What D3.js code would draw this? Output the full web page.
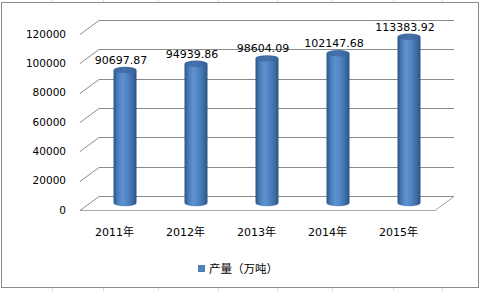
<!DOCTYPE html>
<html>
<head>
<meta charset="utf-8">
<script src="https://cdn.jsdelivr.net/npm/d3@7"></script>
<style>
  body { margin: 0; background: #fff; }
  svg text { font-family: "DejaVu Sans", "Noto Sans CJK SC", sans-serif; fill: #000; }
</style>
</head>
<body>
<div id="app"></div>
<script>
// chart data
var years = ["2011年", "2012年", "2013年", "2014年", "2015年"];
var output = [90697.87, 94939.86, 98604.09, 102147.68, 113383.92];
var yTicks = [0, 20000, 40000, 60000, 80000, 100000, 120000];
var seriesName = "产量（万吨）";

var width = 482,
  height = 291,
  depthX = 19,
  depthY = -14,
  barW = 23;

var svg = d3.select("#app")
  .append("svg")
  .attr("width", width)
  .attr("height", height);

// faint spreadsheet cells behind the chart object
var cellCols = [52, 103, 158, 218, 277, 332, 393, 442];
svg.selectAll(".cell")
  .data(cellCols)
  .enter().append("line")
  .attr("x1", d => d + 0.5).attr("x2", d => d + 0.5)
  .attr("y1", 0).attr("y2", height)
  .attr("stroke", "#d9d9d9");

// chart area
svg.append("rect")
  .attr("x", 1.5).attr("y", 2.5)
  .attr("width", 477).attr("height", 285)
  .attr("fill", "#fff")
  .attr("stroke", "#8c8c8c");

// scales on the front plane
var x = d3.scaleBand()
  .domain(years)
  .range([80, 435]);

var y = d3.scaleLinear()
  .domain([0, 120000])
  .range([210, 34]);

var grid = svg.append("g");

// gridlines: left side wall diagonal + back wall line
yTicks.forEach(function (t) {
  var yf = Math.round(y(t)) + 0.5;
  grid.append("path")
    .attr("d", "M80," + yf + "L" + (80 + depthX) + "," + (yf + depthY) + "L" + (435 + depthX) + "," + (yf + depthY))
    .attr("fill", "none")
    .attr("stroke", "#8a8a8a");
});

// floor front and right edges
var y0 = Math.round(y(0)) + 0.5;
grid.append("path")
  .attr("d", "M80," + y0 + "L435," + y0 + "L" + (435 + depthX) + "," + (y0 + depthY))
  .attr("fill", "none")
  .attr("stroke", "#a6a6a6");

// tick labels
svg.selectAll(".ytick")
  .data(yTicks)
  .enter().append("text")
  .attr("x", 66)
  .attr("y", d => y(d))
  .attr("dy", "0.35em")
  .attr("text-anchor", "end")
  .style("font-size", "10.5px")
  .text(d => d);

// cylinder gradients
var defs = svg.append("defs");
var sideGrad = defs.append("linearGradient").attr("id", "side");
[["0%", "#2c5487"], ["18%", "#4a7cb8"], ["38%", "#5f92d2"], ["62%", "#4f82c0"], ["85%", "#3c6aa3"], ["100%", "#2b5283"]]
  .forEach(s => sideGrad.append("stop").attr("offset", s[0]).attr("stop-color", s[1]));
var capGrad = defs.append("linearGradient").attr("id", "cap");
[["0%", "#3a68a0"], ["50%", "#4572ab"], ["100%", "#36609a"]]
  .forEach(s => capGrad.append("stop").attr("offset", s[0]).attr("stop-color", s[1]));

var ry = 3.2;
var bars = svg.selectAll(".bar")
  .data(years.map((d, i) => ({ year: d, value: output[i] })))
  .enter().append("g");

bars.each(function (d) {
  var g = d3.select(this);
  var cx = x(d.year) + x.bandwidth() / 2 + depthX / 2;
  var yb = y(0) + depthY / 2;
  var yt = y(d.value) + depthY / 2;
  var r = barW / 2;
  g.append("path")
    .attr("d", "M" + (cx - r) + "," + yt + "L" + (cx - r) + "," + yb +
      "A" + r + "," + ry + " 0 0 0 " + (cx + r) + "," + yb +
      "L" + (cx + r) + "," + yt + "Z")
    .attr("fill", "url(#side)");
  g.append("ellipse")
    .attr("cx", cx).attr("cy", yt)
    .attr("rx", r).attr("ry", ry)
    .attr("fill", "url(#cap)");
  g.append("text")
    .attr("x", cx - 4)
    .attr("y", yt - 10)
    .attr("dy", "0.35em")
    .attr("text-anchor", "middle")
    .style("font-size", "11px")
    .text(d.value.toFixed(2));
});

// category labels
svg.selectAll(".xtick")
  .data(years)
  .enter().append("text")
  .attr("x", d => x(d) + x.bandwidth() / 2 - 1)
  .attr("y", 232)
  .attr("dy", "0.35em")
  .attr("text-anchor", "middle")
  .style("font-size", "11px")
  .text(d => d);

// legend
svg.append("rect")
  .attr("x", 198).attr("y", 265)
  .attr("width", 7).attr("height", 7)
  .attr("fill", "#4f81bd");
svg.append("text")
  .attr("x", 209)
  .attr("y", 268.5)
  .attr("dy", "0.35em")
  .style("font-size", "11.5px")
  .text(seriesName);
</script>
</body>
</html>
